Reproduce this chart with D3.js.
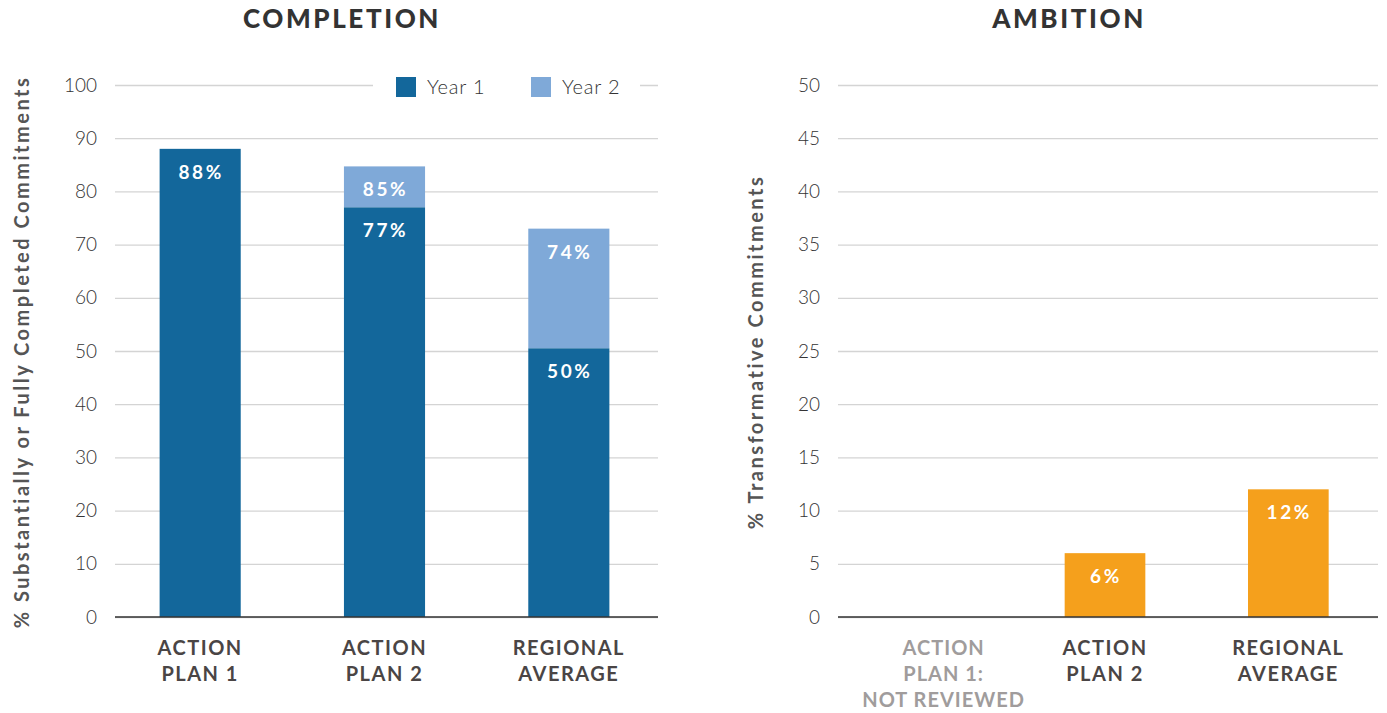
<!DOCTYPE html>
<html>
<head>
<meta charset="utf-8">
<script src="https://cdn.jsdelivr.net/npm/d3@7"></script>
<style>
  body { margin: 0; background: #fff; }
  svg { display: block; font-family: Lato, "Open Sans", sans-serif; }
</style>
</head>
<body>
<svg id="chart" width="1387" height="713"></svg>
<script>
// completion panel
var compCategories = [["ACTION", "PLAN 1"], ["ACTION", "PLAN 2"], ["REGIONAL", "AVERAGE"]];
var year1 = [88, 77, 50.5];
var year2 = [null, 84.7, 73];           // cumulative top of year 2 segment
var year1Labels = ["88%", "77%", "50%"];
var year2Labels = [null, "85%", "74%"];
var compTicks = [0, 10, 20, 30, 40, 50, 60, 70, 80, 90, 100];

// ambition panel
var ambCategories = [["ACTION", "PLAN 1:", "NOT REVIEWED"], ["ACTION", "PLAN 2"], ["REGIONAL", "AVERAGE"]];
var ambValues = [null, 6, 12];
var ambLabels = [null, "6%", "12%"];
var ambTicks = [0, 5, 10, 15, 20, 25, 30, 35, 40, 45, 50];

var legendItems = ["Year 1", "Year 2"];

var colors = { y1: "#13679b", y2: "#7fa9d8", amb: "#f5a01c" };

(function() {
  var svg = d3.select("#chart");

  function panel(opts) {
    var g = svg.append("g");
    var y = d3.scaleLinear().domain(opts.domain).range([617, 85]);
    var x = d3.scaleBand().domain(d3.range(opts.cats.length))
      .range(opts.xRange).paddingInner(0.56).paddingOuter(0.28);

    // title
    g.append("text")
      .attr("x", opts.titleX).attr("y", 28)
      .attr("text-anchor", "middle")
      .style("font-size", "26px").style("font-weight", 900)
      .style("fill", "#333").style("letter-spacing", "2.6px")
      .text(opts.title);

    // grid + tick labels
    var yAxis = d3.axisLeft(y).tickValues(opts.ticks)
      .tickSize(-(opts.gridX[1] - opts.gridX[0])).tickPadding(18);
    var ax = g.append("g")
      .attr("transform", "translate(" + opts.gridX[0] + ",0)")
      .call(yAxis);
    ax.select(".domain").remove();
    ax.selectAll(".tick line").attr("stroke", "#d4d4d4").attr("stroke-width", 1.3);
    ax.selectAll(".tick text")
      .style("font-size", "19px").style("font-weight", 300).style("fill", "#333")
      .attr("font-family", "Lato, sans-serif");

    // y title
    g.append("text")
      .attr("transform", "translate(" + opts.yTitleX + "," + opts.yTitleY + ") rotate(-90)")
      .attr("text-anchor", "middle")
      .style("font-size", "20px").style("font-weight", 700)
      .style("fill", "#555").style("letter-spacing", "2.5px")
      .text(opts.yTitle);

    // category labels
    opts.cats.forEach(function(lines, i) {
      var cx = x(i) + x.bandwidth() / 2 + (opts.catShift ? opts.catShift(i) : 0);
      var t = g.append("text")
        .attr("x", cx).attr("y", 655)
        .attr("text-anchor", "middle")
        .style("font-size", "20px").style("font-weight", 700)
        .style("fill", opts.catColor(i))
        .style("letter-spacing", lines.length > 2 ? "1px" : "1.5px");
      lines.forEach(function(l, j) {
        t.append("tspan").attr("x", cx)
          .attr("dy", j === 0 ? 0 : 26).text(l);
      });
    });

    return { g: g, x: x, y: y };
  }

  function barLabel(g, cx, top, text) {
    g.append("text")
      .attr("x", cx + 1).attr("y", top + 30)
      .attr("text-anchor", "middle")
      .style("font-size", "19px").style("font-weight", 700)
      .style("fill", "#fff").style("letter-spacing", "2.6px")
      .text(text);
  }

  // ---- COMPLETION ----
  var c = panel({
    title: "COMPLETION", titleX: 342,
    domain: [0, 100], ticks: compTicks,
    xRange: [108, 661], gridX: [115, 658],
    yTitle: "% Substantially or Fully Completed Commitments",
    yTitleX: 29, yTitleY: 352,
    cats: compCategories,
    catColor: function() { return "#4a4545"; }
  });

  // legend (white box breaks the 100 gridline)
  var lg = c.g.append("g");
  lg.append("rect").attr("x", 373).attr("y", 72).attr("width", 267).attr("height", 30).attr("fill", "#fff");
  legendItems.forEach(function(name, i) {
    var lx = 396 + i * 135;
    lg.append("rect").attr("x", lx).attr("y", 77).attr("width", 20).attr("height", 20)
      .attr("fill", i === 0 ? colors.y1 : colors.y2);
    lg.append("text").attr("x", lx + 31).attr("y", 94)
      .style("font-size", "20px").style("font-weight", 300).style("fill", "#333")
      .style("letter-spacing", "0.8px")
      .text(name);
  });

  year1.forEach(function(v, i) {
    var bx = c.x(i), bw = c.x.bandwidth();
    if (year2[i] != null) {
      c.g.append("rect").attr("x", bx).attr("width", bw)
        .attr("y", c.y(year2[i])).attr("height", c.y(v) - c.y(year2[i]))
        .attr("fill", colors.y2);
      barLabel(c.g, bx + bw / 2, c.y(year2[i]), year2Labels[i]);
    }
    c.g.append("rect").attr("x", bx).attr("width", bw)
      .attr("y", c.y(v)).attr("height", c.y(0) - c.y(v))
      .attr("fill", colors.y1);
    barLabel(c.g, bx + bw / 2, c.y(v), year1Labels[i]);
  });
  c.g.append("line").attr("x1", 115).attr("x2", 658)
    .attr("y1", c.y(0)).attr("y2", c.y(0)).attr("stroke", "#333").attr("stroke-width", 1.5);

  // ---- AMBITION ----
  var a = panel({
    title: "AMBITION", titleX: 1069,
    domain: [0, 50], ticks: ambTicks,
    xRange: [830, 1380], gridX: [838, 1378],
    yTitle: "% Transformative Commitments",
    yTitleX: 763, yTitleY: 352,
    cats: ambCategories,
    catShift: function(i) { return ambValues[i] == null ? 22 : 0; },
    catColor: function(i) { return ambValues[i] == null ? "#a09c9c" : "#4a4545"; }
  });

  ambValues.forEach(function(v, i) {
    if (v == null) return;
    var bx = a.x(i), bw = a.x.bandwidth();
    a.g.append("rect").attr("x", bx).attr("width", bw)
      .attr("y", a.y(v)).attr("height", a.y(0) - a.y(v))
      .attr("fill", colors.amb);
    barLabel(a.g, bx + bw / 2, a.y(v), ambLabels[i]);
  });
  a.g.append("line").attr("x1", 838).attr("x2", 1378)
    .attr("y1", a.y(0)).attr("y2", a.y(0)).attr("stroke", "#333").attr("stroke-width", 1.5);
})();
</script>
</body>
</html>
